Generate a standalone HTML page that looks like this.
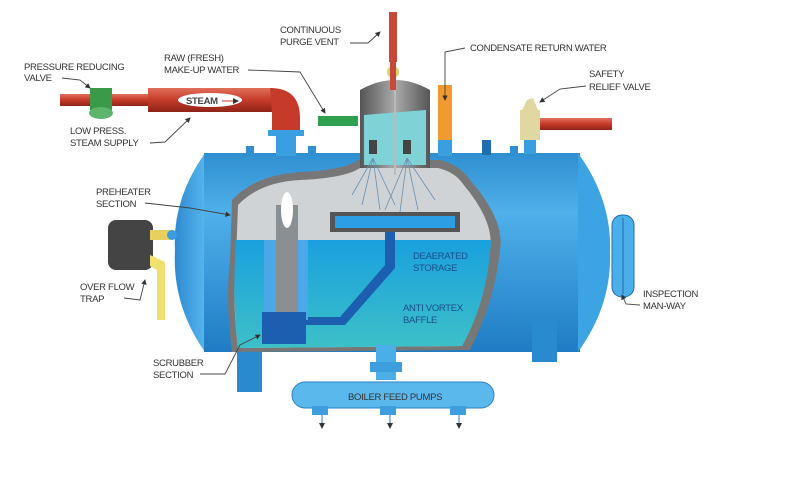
<!DOCTYPE html>
<html><head><meta charset="utf-8"><style>
html,body{margin:0;padding:0;background:#fff;}
svg{display:block;}
text{font-family:"Liberation Sans",sans-serif;font-size:9.5px;fill:#333;letter-spacing:-0.3px;}
</style></head><body>
<svg width="792" height="480" viewBox="0 0 792 480" xmlns="http://www.w3.org/2000/svg">
<defs>
<linearGradient id="tank" x1="0" y1="0" x2="0" y2="1">
<stop offset="0" stop-color="#2f8fd0"/><stop offset="0.3" stop-color="#4fb0ea"/><stop offset="1" stop-color="#1f7cc4"/></linearGradient>
<linearGradient id="cap" x1="0" y1="0" x2="1" y2="0">
<stop offset="0" stop-color="#2e8ad0"/><stop offset="1" stop-color="#55b5ee"/></linearGradient>
<linearGradient id="red" x1="0" y1="0" x2="0" y2="1">
<stop offset="0" stop-color="#e0705a"/><stop offset="0.5" stop-color="#c63a2a"/><stop offset="1" stop-color="#8e2418"/></linearGradient>
<linearGradient id="dome" x1="0" y1="0" x2="1" y2="0">
<stop offset="0" stop-color="#555"/><stop offset="0.5" stop-color="#aaa"/><stop offset="1" stop-color="#555"/></linearGradient>
<linearGradient id="water" x1="0" y1="0" x2="0" y2="1">
<stop offset="0" stop-color="#1aa0de"/><stop offset="1" stop-color="#3cc0c8"/></linearGradient>
<marker id="ah" markerWidth="6" markerHeight="6" refX="5" refY="3" orient="auto"><path d="M0,0 L6,3 L0,6z" fill="#333"/></marker>
</defs>

<!-- tank -->
<path d="M205,153 Q172,200 175,250 Q172,305 205,352 Z" fill="url(#cap)"/>
<rect x="204" y="153" width="376" height="199" fill="url(#tank)"/>
<path d="M578,153 Q612,200 610,252 Q612,305 578,352 Z" fill="#3da4e4"/>
<rect x="246" y="146" width="8" height="9" fill="#2f8fd0"/>
<rect x="308" y="146" width="8" height="9" fill="#2f8fd0"/>
<rect x="482" y="140" width="9" height="15" fill="#1e6eb0"/>
<rect x="510" y="146" width="8" height="9" fill="#2f8fd0"/>
<rect x="237" y="350" width="25" height="42" fill="#2a8ad0"/>
<rect x="532" y="320" width="25" height="42" fill="#2a8ad0"/>
<rect x="612" y="215" width="22" height="82" rx="10" fill="#4aaee8" stroke="#1e6eb0"/>
<line x1="623" y1="218" x2="623" y2="294" stroke="#1e6eb0"/>

<!-- cutaway -->
<path d="M232,200 Q255,175 300,172 Q345,170 358,160 L440,160 Q460,165 470,180 Q505,220 500,250 Q495,300 470,350 L232,352 Q225,300 230,260 Z" fill="#777"/>
<path d="M238,205 Q260,182 300,180 Q345,178 360,168 L438,168 Q455,172 463,184 Q495,222 490,250 Q486,300 462,346 L238,348 Q232,300 236,260 Z" fill="#cfd3d6"/>
<path d="M236,240 L491,240 Q488,300 462,346 L238,348 Q232,300 236,240Z" fill="url(#water)"/>
<path d="M360,90 Q395,70 430,90 L430,168 L360,168 Z" fill="url(#dome)"/>
<path d="M364,115 L426,110 L426,165 L364,165Z" fill="#7fd2d6"/>
<line x1="395" y1="60" x2="395" y2="175" stroke="#bbb" stroke-width="2"/>
<rect x="369" y="140" width="8" height="14" fill="#444"/><rect x="403" y="140" width="8" height="14" fill="#444"/>
<g stroke="#6a8fb0" stroke-width="0.8" fill="none">
<path d="M373,158 L352,195 M373,158 L362,205 M373,158 L380,210 M373,158 L395,205 M407,158 L385,210 M407,158 L400,212 M407,158 L418,210 M407,158 L435,200"/></g>
<rect x="330" y="212" width="130" height="20" fill="#555"/>
<rect x="335" y="216" width="120" height="12" fill="#2c9ee6"/>
<path d="M385,232 L395,232 L395,268 L345,325 L300,325 L300,317 L340,317 L385,265 Z" fill="#1c5fb0"/>
<rect x="264" y="240" width="44" height="80" fill="#4aa8e8"/>
<rect x="276" y="205" width="22" height="110" fill="#8a8f94"/>
<ellipse cx="287" cy="210" rx="6" ry="18" fill="#fff"/>
<rect x="262" y="312" width="44" height="32" fill="#1c5fb0"/>
<rect x="376" y="345" width="20" height="35" fill="#4aaee8"/>
<rect x="370" y="362" width="32" height="10" fill="#3c9edc"/>
<rect x="292" y="382" width="202" height="26" rx="13" fill="#5bb8ec" stroke="#2a7fc0"/>
<g fill="#3c9edc"><rect x="312" y="406" width="16" height="9"/><rect x="380" y="406" width="16" height="9"/><rect x="450" y="406" width="16" height="9"/></g>
<g stroke="#2a7fc0" marker-end="url(#ah)"><line x1="322" y1="415" x2="322" y2="428"/><line x1="390" y1="415" x2="390" y2="428"/><line x1="459" y1="415" x2="459" y2="428"/></g>
<text x="348" y="400">BOILER FEED PUMPS</text>

<!-- steam pipe -->
<rect x="60" y="94" width="95" height="12" fill="url(#red)"/>
<rect x="90" y="88" width="22" height="24" fill="#3a9a4a"/>
<ellipse cx="101" cy="113" rx="12" ry="6" fill="#5cb56a"/>
<rect x="148" y="88" width="125" height="24" fill="url(#red)"/>
<path d="M270,88 Q300,88 300,118 L300,132 L272,132 L272,112 Z" fill="#c63a2a"/>
<rect x="268" y="130" width="36" height="6" fill="#3a9fe0"/>
<rect x="276" y="136" width="20" height="20" fill="#3a9fe0"/>
<ellipse cx="210" cy="100" rx="32" ry="7" fill="#fff"/>
<text x="186" y="104" style="font-weight:bold;fill:#444">STEAM</text>
<line x1="222" y1="101" x2="238" y2="101" stroke="#c63a2a" marker-end="url(#ah)"/>
<rect x="318" y="116" width="40" height="10" fill="#2fa050"/>
<rect x="389" y="12" width="8" height="50" fill="#c64a3a"/>
<circle cx="393" cy="72" r="6" fill="#e0d070"/>
<rect x="390" y="62" width="6" height="28" fill="#c64a3a"/>
<rect x="438" y="85" width="14" height="60" fill="#f09a30"/>
<rect x="438" y="140" width="14" height="16" fill="#3a9fe0"/>
<path d="M527,100 L533,98 L538,110 L522,110 Z" fill="#e0d8a0"/>
<rect x="520" y="110" width="20" height="30" fill="#e0d8a0"/>
<rect x="540" y="118" width="72" height="12" fill="url(#red)"/>
<rect x="524" y="140" width="12" height="14" fill="#3a9fe0"/>
<rect x="108" y="220" width="45" height="50" rx="8" fill="#444"/>
<rect x="150" y="230" width="22" height="10" fill="#e8d060"/>
<circle cx="172" cy="235" r="5" fill="#3a9fe0"/>
<path d="M150,255 L165,262 L165,320 L157,320 L157,270 L150,266Z" fill="#f0e070"/>

<!-- labels -->
<text x="24" y="70">PRESSURE REDUCING</text><text x="24" y="81">VALVE</text>
<text x="164" y="61">RAW (FRESH)</text><text x="164" y="73">MAKE-UP WATER</text>
<text x="280" y="33">CONTINUOUS</text><text x="280" y="45">PURGE VENT</text>
<text x="470" y="51">CONDENSATE RETURN WATER</text>
<text x="589" y="77">SAFETY</text><text x="589" y="90">RELIEF VALVE</text>
<text x="70" y="134">LOW PRESS.</text><text x="70" y="146">STEAM SUPPLY</text>
<text x="96" y="195">PREHEATER</text><text x="96" y="207">SECTION</text>
<text x="80" y="290">OVER FLOW</text><text x="80" y="302">TRAP</text>
<text x="153" y="366">SCRUBBER</text><text x="153" y="378">SECTION</text>
<text x="413" y="259" style="fill:#1a4f8a">DEAERATED</text><text x="413" y="271" style="fill:#1a4f8a">STORAGE</text>
<text x="403" y="311" style="fill:#1a4f8a">ANTI VORTEX</text><text x="403" y="323" style="fill:#1a4f8a">BAFFLE</text>
<text x="643" y="297">INSPECTION</text><text x="643" y="309">MAN-WAY</text>

<g stroke="#444" stroke-width="0.9" fill="none" marker-end="url(#ah)">
<path d="M62,78 L80,80 L90,88"/>
<path d="M248,70 L300,72 L325,113"/>
<path d="M350,43 L368,43 L380,32"/>
<path d="M465,48 L445,52 L445,100"/>
<path d="M586,86 L560,89 L540,102"/>
<path d="M150,143 L165,142 L190,118"/>
<path d="M145,203 L190,208 L230,215"/>
<path d="M124,298 L140,300 L145,280"/>
<path d="M200,374 L225,374 L240,345 L260,335"/>
<path d="M640,305 L626,304 L622,295"/>
</g>
</svg>
</body></html>
